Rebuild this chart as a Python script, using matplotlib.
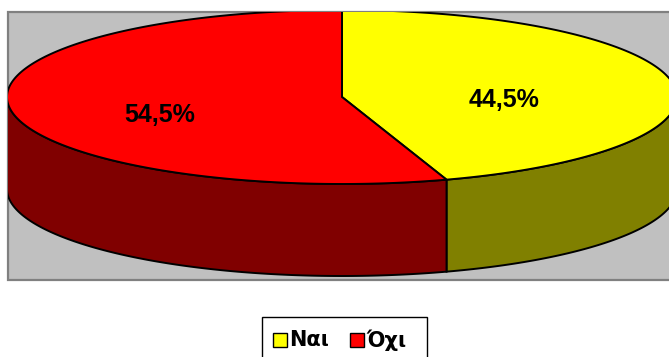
import numpy as np
import matplotlib
matplotlib.use("Agg")
import matplotlib.pyplot as plt
from matplotlib.patches import Polygon, Rectangle

# answer shares (Yes / No)
categories = ["Ναι", "Όχι"]
values = [44.5, 54.5]
top_colors = ["#ffff00", "#ff0000"]
side_colors = ["#808000", "#800000"]

W, H = 669, 357
CX, CY = 342, 97          # centre of the top face, pixels
RX, RY = 335, 87          # ellipse radii
DEPTH = 92                # thickness of the pie
LABEL_R = [0.49, 0.55]    # label distance from centre, per slice
FONT = "Liberation Sans"


def ellipse_pts(t0, t1, n=200):
    """Points on the top rim, angle in degrees clockwise from 12 o'clock."""
    t = np.radians(np.linspace(t0, t1, n))
    return np.column_stack([CX + RX * np.sin(t), CY - RY * np.cos(t)])


def main():
    fig = plt.figure(figsize=(W / 100, H / 100), dpi=100)
    ax = fig.add_axes([0, 0, 1, 1])
    ax.set_xlim(0, W)
    ax.set_ylim(H, 0)
    ax.axis("off")

    area = Rectangle((8, 12), 700, 268, facecolor="#c0c0c0",
                     edgecolor="#808080", lw=1.6, zorder=0)
    ax.add_patch(area)
    clip = Rectangle((8, 12), 700, 268, transform=ax.transData)

    fracs = np.array(values) / sum(values)
    edges = np.concatenate([[0], np.cumsum(fracs) * 360])

    # side walls: only the front half (90..270 deg) is visible
    for i in range(len(values)):
        a0, a1 = max(edges[i], 90), min(edges[i + 1], 270)
        if a1 <= a0:
            continue
        rim = ellipse_pts(a0, a1)
        low = rim[::-1] + [0, DEPTH]
        p = Polygon(np.vstack([rim, low]), closed=True, facecolor=side_colors[i],
                    edgecolor="black", lw=1.4, zorder=2)
        ax.add_patch(p)
        p.set_clip_path(clip)

    # top faces
    for i in range(len(values)):
        rim = ellipse_pts(edges[i], edges[i + 1])
        p = Polygon(np.vstack([[CX, CY], rim]), closed=True, facecolor=top_colors[i],
                    edgecolor="black", lw=1.4, zorder=3, joinstyle="miter")
        ax.add_patch(p)
        p.set_clip_path(clip)

    # percentage labels
    for i, v in enumerate(values):
        mid = np.radians((edges[i] + edges[i + 1]) / 2)
        r = LABEL_R[i]
        x = CX + RX * r * np.sin(mid)
        y = CY - RY * r * np.cos(mid) + 10
        ax.text(x, y, f"{v:.1f}%".replace(".", ","), ha="center", va="center",
                fontsize=18, fontweight="bold", family=FONT, zorder=5)

    # legend box
    ax.add_patch(Rectangle((262, 317), 165, 50, facecolor="white",
                           edgecolor="black", lw=1.0, zorder=4))
    x = 273
    for name, col in zip(categories, top_colors):
        ax.add_patch(Rectangle((x, 333), 14, 14, facecolor=col,
                               edgecolor="black", lw=1.0, zorder=5))
        ax.text(x + 16, 340, name, ha="left", va="center", fontsize=15,
                fontweight="bold", family="DejaVu Sans", zorder=5)
        x += 77

    fig.savefig("out.png", dpi=100)


if __name__ == "__main__":
    main()
